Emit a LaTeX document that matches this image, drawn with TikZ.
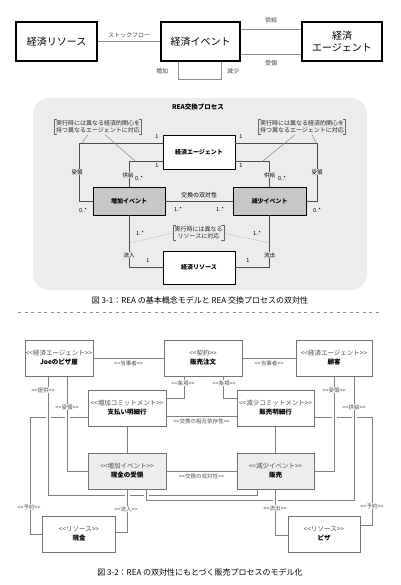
\documentclass[tikz,border=0pt]{standalone}
\usepackage{fontspec}
\setmainfont{Noto Sans CJK JP}
\usetikzlibrary{positioning}
\pgfdeclarelayer{background}
\pgfsetlayers{background,main}
\definecolor{panel}{gray}{0.925}
\definecolor{evfill}{gray}{0.78}
\definecolor{evlight}{gray}{0.93}
\newcommand\stp[1]{<{}<#1>{}>}
\newcommand\brackets[1]{%
  \draw[brk]([xshift=2.5]#1.north west)--(#1.north west)--(#1.south west)--([xshift=2.5]#1.south west);
  \draw[brk]([xshift=-2.5]#1.north east)--(#1.north east)--(#1.south east)--([xshift=-2.5]#1.south east);}

\begin{document}
\begin{tikzpicture}[x=1pt,y=-1pt,
  bigbox/.style={draw,line width=1.3pt,inner sep=1pt,minimum height=39pt,align=center,
    font=\fontsize{10}{12}\selectfont},
  wire/.style={draw=black!45,line width=0.8pt},
  lbl/.style={font=\fontsize{6}{7}\selectfont,text=black!75,inner sep=1pt},
  rbox/.style={draw,line width=0.6pt,fill=white,minimum width=72pt,inner sep=1pt,
    font=\bfseries\fontsize{6}{7}\selectfont},
  ebox/.style={rbox,fill=evfill},
  mwire/.style={draw=black!70,line width=0.6pt},
  mlbl/.style={font=\fontsize{5.5}{6.5}\selectfont,inner sep=0.6pt},
  note/.style={font=\fontsize{6}{7}\selectfont,align=center,inner sep=1.2pt,text=black!85},
  brk/.style={draw=black!60,line width=0.45pt},
  ptr/.style={draw=black!50,line width=0.45pt},
  ubox/.style={draw=black!55,line width=0.7pt,fill=white,minimum height=36pt,align=center,
    inner sep=1pt,font=\fontsize{6.5}{9}\selectfont},
  uev/.style={ubox,fill=evlight},
  uwire/.style={draw=black!50,line width=0.6pt},
  hop/.style={uwire,preaction={draw,white,line width=5pt}},
  ulbl/.style={font=\fontsize{5.5}{6.5}\selectfont,text=black!70,inner sep=0.5pt,fill=white},
]
\useasboundingbox (0,0) rectangle (400,585);

% ---- REA basic model
\node[bigbox,minimum width=81pt] (res) at (56.5,41.5) {経済リソース};
\node[bigbox,minimum width=79pt] (evt) at (200.5,41.5) {経済イベント};
\node[bigbox,minimum width=80pt] (agt) at (342,41.5) {経済\\エージェント};
\draw[wire] (res) -- node[lbl,above=2pt]{ストックフロー} (evt);
\draw[wire] ([yshift=12.5]evt.east) -- node[lbl,above=5pt]{供給} ([yshift=12.5]agt.west);
\draw[wire] ([yshift=-12.5]evt.east) -- node[lbl,below=5pt]{受領} ([yshift=-12.5]agt.west);
\draw[wire] ([xshift=-22.5]evt.south) -- ++(0,18) -| ([xshift=20.5]evt.south);
\node[lbl] (inc) at (162,71) {増加};
\node[lbl] (dec) at (233,71) {減少};

% ---- REA exchange process
\fill[panel,rounded corners=16] (33,98) rectangle (367,290);
\node[font=\bfseries\fontsize{6.5}{8}\selectfont] (ttl) at (198,107) {REA交換プロセス};
\node[rbox,minimum height=34pt] (magt) at (199,152) {経済エージェント};
\node[ebox,minimum height=28pt] (minc) at (129,201) {増加イベント};
\node[ebox,minimum height=28pt,minimum width=73pt] (mdec) at (269.5,201) {減少イベント};
\node[rbox,minimum height=33pt] (mres) at (199,267.5) {経済リソース};

\draw[mwire] ([yshift=9]magt.west) -| ([xshift=-13]minc.west) -- (minc.west);
\draw[mwire] ([yshift=-9]magt.west) -| (minc.north);
\draw[mwire] ([yshift=9]magt.east) -| ([xshift=11]mdec.east) -- (mdec.east);
\draw[mwire] ([yshift=-9]magt.east) -| (mdec.north);
\draw[mwire] (minc) -- node[mlbl,above=2pt,font=\fontsize{6}{7}\selectfont]{交換の双対性} (mdec);
\draw[mwire] (minc.south) |- (mres.west);
\draw[mwire] (mdec.south) |- (mres.east);

\node[mlbl,fill=panel] (rcvL) at (77,172) {受領};
\node[mlbl,fill=panel] (rcvR) at (317,172) {受領};
\node[mlbl,fill=panel] (supL) at (128,175) {供給};
\node[mlbl,fill=panel] (supR) at (269.5,175) {供給};
\node[mlbl,fill=panel] (flin) at (129,255) {流入};
\node[mlbl,fill=panel] (flout) at (269.5,255) {流出};
\node[mlbl] (m1a) at (157,137) {1};
\node[mlbl] (m1b) at (241,137) {1};
\node[mlbl] (m1c) at (157,166) {1};
\node[mlbl] (m1d) at (241,166) {1};
\node[mlbl] (mz1) at (83,210) {0..*};
\node[mlbl] (mz2) at (317,210) {0..*};
\node[mlbl] (mz3) at (139,178) {0..*};
\node[mlbl] (mz4) at (282,178) {0..*};
\node[mlbl] (mm1) at (178,209) {1..*};
\node[mlbl] (mm2) at (220,209) {1..*};
\node[mlbl] (mm3) at (140,233) {1..*};
\node[mlbl] (mm4) at (257,233) {1..*};
\node[mlbl] (mr1) at (148,261) {1};
\node[mlbl] (mr2) at (248,261) {1};

\node[note] (nagL) at (98,127) {実行時には異なる経済的関心を\\持つ異なるエージェントに対応};
\node[note] (nagR) at (302,127) {実行時には異なる経済的関心を\\持つ異なるエージェントに対応};
\node[note] (nres) at (198.5,233) {実行時には異なる\\リソースに対応};
\brackets{nagL}
\brackets{nagR}
\brackets{nres}
\coordinate (pL1) at (82,143);
\coordinate (pL2) at (135,161);
\coordinate (pR1) at (316,143);
\coordinate (pR2) at (263,161);
\coordinate (pM1) at (129,243);
\coordinate (pM2) at (269.5,243);
\draw[ptr] ([xshift=-10]nagL.south) -- (pL1);
\draw[ptr] ([xshift=7]nagL.south) -- (pL2);
\draw[ptr] ([xshift=10]nagR.south) -- (pR1);
\draw[ptr] ([xshift=-7]nagR.south) -- (pR2);
\draw[ptr,densely dotted] (nres.west) -- (pM1);
\draw[ptr,densely dotted] (nres.east) -- (pM2);

\node[font=\fontsize{8}{10}\selectfont] (cap1) at (200,300)
  {図 3-1：REA の基本概念モデルと REA 交換プロセスの双対性};
\draw[black!45,line width=0.6pt,dash pattern=on 3pt off 3.5pt] (18,312) -- (382,312);

% ---- sales process
\node[ubox,minimum width=60pt] (joe) at (59,358) {{\color{black!70}\stp{経済エージェント}}\\\textbf{Joeのピザ屋}};
\node[ubox,minimum width=78pt] (ord) at (203,358) {{\color{black!70}\stp{契約}}\\\textbf{販売注文}};
\node[ubox,minimum width=76pt] (cus) at (334,358) {{\color{black!70}\stp{経済エージェント}}\\\textbf{顧客}};
\node[ubox,minimum width=78pt] (pay) at (127,408) {{\color{black!70}\stp{増加コミットメント}}\\\textbf{支払い明細行}};
\node[ubox,minimum width=77pt] (sal) at (275.5,408) {{\color{black!70}\stp{減少コミットメント}}\\\textbf{販売明細行}};
\node[uev,minimum width=78pt] (rcp) at (127,471) {{\color{black!70}\stp{増加イベント}}\\\textbf{現金の受領}};
\node[uev,minimum width=77pt] (sale) at (275.5,471) {{\color{black!70}\stp{減少イベント}}\\\textbf{販売}};
\node[ubox,minimum width=73pt] (cash) at (79,534) {{\color{black!70}\stp{リソース}}\\\textbf{現金}};
\node[ubox,minimum width=72pt] (pizza) at (324,534) {{\color{black!70}\stp{リソース}}\\\textbf{ピザ}};

\begin{pgfonlayer}{background}
\draw[uwire] (joe) -- node[ulbl,below=2pt]{\stp{当事者}} (ord);
\draw[uwire] (ord) -- node[ulbl,below=2pt]{\stp{当事者}} (cus);
\draw[uwire] ([xshift=-19]ord.south) |- ([yshift=10]pay.east);
\draw[uwire] ([xshift=20]ord.south) |- ([yshift=10]sal.west);
\draw[uwire] ([yshift=-8]pay.east) -- node[ulbl,below=2pt]{\stp{交換の相互依存性}} ([yshift=-8]sal.west);
\draw[uwire] (rcp) -- node[ulbl,below=2pt]{\stp{交換の双対性}} (sale);
\draw[uwire] (pay) -- (rcp);
\draw[uwire] (sal) -- (sale);
\draw[uwire] ([yshift=-9]pay.west) -| ([xshift=-12]cash.west) -- (cash.west);
\draw[uwire] ([yshift=-9]sal.east) -| ([xshift=12,yshift=9]pizza.east) -- ([yshift=9]pizza.east);
\draw[hop] ([xshift=-11]joe.south) |- ([xshift=-18.5,yshift=-6]sale.south) -- ([xshift=-18.5]sale.south);
\draw[hop] ([xshift=8]joe.south) |- (rcp.west);
\draw[hop] (cus.south) |- (sale.east);
\draw[hop] (rcp.south) |- ([yshift=2]cash.east);
\draw[hop] ([xshift=20]cus.south) |- ([xshift=19,yshift=-11]rcp.south) -- ([xshift=19]rcp.south);
\draw[hop] (sale.south) |- ([yshift=-1]pizza.west);
\end{pgfonlayer}
\node[ulbl] (lprov) at (43,390) {\stp{提供}};
\node[ulbl] (lrcvL) at (67,407) {\stp{受領}};
\node[ulbl] (lrcvR) at (334,390) {\stp{受領}};
\node[ulbl] (lsup) at (354,407) {\stp{供給}};
\node[ulbl] (ltrm1) at (183,383) {\stp{条項}};
\node[ulbl] (ltrm2) at (224,383) {\stp{条項}};
\node[ulbl] (lresL) at (29,507) {\stp{予約}};
\node[ulbl] (lresR) at (372,506) {\stp{予約}};
\node[ulbl] (linf) at (126,509) {\stp{流入}};
\node[ulbl] (loutf) at (275,508) {\stp{流出}};

\node[font=\fontsize{8}{10}\selectfont] (cap2) at (200,572)
  {図 3-2：REA の双対性にもとづく販売プロセスのモデル化};
\end{tikzpicture}
\end{document}
